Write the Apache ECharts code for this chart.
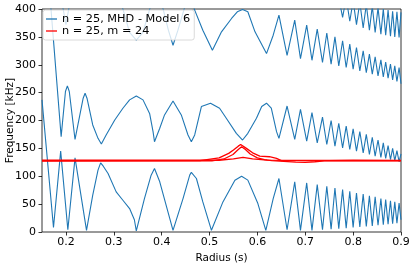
<!DOCTYPE html>
<html>
<head>
<meta charset="utf-8">
<script src="https://cdn.jsdelivr.net/npm/echarts@6/dist/echarts.min.js"></script>
<style>
  html, body { margin: 0; padding: 0; background: #fff; }
  #chart { width: 415px; height: 264px; }
</style>
</head>
<body>
<div id="chart"></div>
<script>
// ---- data ----
const xTicks = [0.2, 0.3, 0.4, 0.5, 0.6, 0.7, 0.8, 0.9];
const yTicks = [0, 50, 100, 150, 200, 250, 300, 350, 400];
const seriesNames = ['n = 25, MHD - Model 6', 'n = 25, m = 24'];

// lower continuum branch (0 - 150 kHz)
const branchA = [[0.15,237],[0.174,8],[0.189,145],[0.204,4],[0.219,133],[0.243,3],[0.256,66],[0.267,111],[0.2725,124],[0.278,118],[0.288,105],[0.305,72],[0.319,57],[0.333,42],[0.343,22],[0.347,2],[0.364,60],[0.378,102],[0.385,114],[0.396,90],[0.4237,3],[0.4446,60],[0.4586,102],[0.462,107],[0.4726,96],[0.486,54],[0.504,3],[0.528,54],[0.553,93],[0.567,100],[0.58,93],[0.601,51],[0.6176,3],[0.633,60],[0.645,96],[0.662,4],[0.678,90],[0.69,3],[0.703,88],[0.714,3],[0.725,85],[0.736,4],[0.745,82],[0.754,5],[0.762,79],[0.77,6],[0.778,76],[0.7855,7],[0.793,73],[0.8,8],[0.807,70],[0.814,9],[0.821,68],[0.8275,10],[0.834,65],[0.84,11],[0.846,63],[0.852,12],[0.858,60],[0.863,13],[0.868,58],[0.873,14],[0.878,56],[0.8825,15],[0.887,54],[0.8915,16],[0.896,52],[0.9,22]];

// middle continuum branch (150 - 260 kHz)
const branchB = [[0.166,430],[0.19,171],[0.199,252],[0.203,262],[0.207,252],[0.219,166],[0.236,240],[0.240,249],[0.244,240],[0.256,192],[0.267,168],[0.274,158],[0.284,174],[0.302,201],[0.319,222],[0.333,237],[0.347,244],[0.361,237],[0.375,212],[0.382,180],[0.385,162],[0.396,186],[0.406,210],[0.4237,235],[0.441,210],[0.455,174],[0.462,162],[0.469,174],[0.483,225],[0.502,231],[0.521,222],[0.535,204],[0.556,177],[0.569,165],[0.58,177],[0.598,204],[0.609,225],[0.619,231],[0.629,222],[0.64,180],[0.645,168],[0.662,226],[0.678,166],[0.69,220],[0.703,163],[0.714,214],[0.725,160],[0.736,206],[0.745,157],[0.754,200],[0.762,154],[0.77,195],[0.778,151],[0.7855,190],[0.793,148],[0.8,185],[0.807,145],[0.814,180],[0.821,142],[0.8275,175],[0.834,139],[0.84,170],[0.846,136],[0.852,165],[0.858,134],[0.863,160],[0.868,132],[0.873,155],[0.878,130],[0.8825,150],[0.887,128],[0.8915,146],[0.896,126],[0.9,140]];

// upper continuum branch (270 - 400 kHz)
const branchC = [[0.19,420],[0.2,372],[0.21,420],[0.31,420],[0.319,400],[0.333,358],[0.347,344],[0.361,358],[0.375,400],[0.385,420],[0.395,420],[0.403,400],[0.414,362],[0.4237,335],[0.434,362],[0.447,400],[0.455,420],[0.462,420],[0.469,398],[0.486,362],[0.506,326],[0.525,359],[0.546,383],[0.558,395],[0.569,399],[0.58,395],[0.595,359],[0.619,320],[0.633,353],[0.645,389],[0.662,317],[0.678,380],[0.69,311],[0.703,371],[0.714,308],[0.725,364],[0.736,304],[0.745,357],[0.754,301],[0.762,350],[0.77,298],[0.778,343],[0.7855,295],[0.793,337],[0.8,292],[0.807,331],[0.814,289],[0.821,325],[0.8275,286],[0.834,319],[0.84,283],[0.846,314],[0.852,280],[0.858,309],[0.863,278],[0.868,305],[0.873,276],[0.878,301],[0.8825,273],[0.887,298],[0.8915,270],[0.896,295],[0.9,266]];

// top-right branch (350 - 400 kHz)
const branchD = [[0.77,420],[0.778,385],[0.7855,420],[0.793,378],[0.8,415],[0.807,372],[0.814,412],[0.821,366],[0.8275,408],[0.834,362],[0.84,405],[0.846,358],[0.852,402],[0.858,355],[0.863,400],[0.868,353],[0.873,398],[0.878,351],[0.8825,396],[0.887,350],[0.8915,395],[0.896,349],[0.9,394]];

// red m = 24 curves
const red1 = [[0.15,128],[0.48,128],[0.52,133],[0.54,141],[0.55,147],[0.56,154],[0.565,157],[0.577,150],[0.59,142],[0.605,136],[0.625,135],[0.64,132],[0.65,128],[0.9,128]];
const red2 = [[0.15,127.3],[0.505,127.5],[0.53,131],[0.549,139],[0.56,148],[0.567,153],[0.575,148],[0.585,140],[0.6,133],[0.615,130],[0.63,128],[0.68,125.5],[0.7,125],[0.72,126],[0.74,127.5],[0.9,127.5]];
const red3 = [[0.15,128.7],[0.52,128.7],[0.55,131],[0.57,134],[0.59,131],[0.62,129],[0.66,128.5],[0.75,128.5],[0.8,129],[0.9,128.5]];

const BLUE = '#1f77b4';
const RED = '#ff0000';
const FONT = 'DejaVu Sans';

function blue(data) {
  return { name: seriesNames[0], type: 'line', data: data, symbol: 'none', clip: true,
           lineStyle: { color: BLUE, width: 1.1 }, itemStyle: { color: BLUE }, animation: false, z: 2 };
}
function red(data) {
  return { name: seriesNames[1], type: 'line', data: data, symbol: 'none', clip: true,
           lineStyle: { color: RED, width: 1.3 }, itemStyle: { color: RED }, animation: false, z: 3 };
}

const chart = echarts.init(document.getElementById('chart'), null, { renderer: 'canvas' });
chart.setOption({
  animation: false,
  backgroundColor: '#fff',
  grid: { left: 42, right: 14, top: 9, bottom: 32, show: true, borderColor: '#000', borderWidth: 0.8,
          backgroundColor: 'transparent', containLabel: false, outerBoundsMode: 'none' },
  legend: {
    data: seriesNames,
    orient: 'vertical',
    left: 43, top: 10,
    padding: [3, 4, 3, 3],
    itemGap: 0,
    icon: 'rect',
    itemWidth: 11,
    itemHeight: 1.3,
    backgroundColor: 'rgba(255,255,255,0.8)',
    borderColor: '#d0d0d0',
    borderWidth: 0.8,
    borderRadius: 2.5,
    textStyle: { fontFamily: FONT, fontSize: 11.3, color: '#000', lineHeight: 12 }
  },
  xAxis: {
    type: 'value', min: 0.15, max: 0.9,
    name: 'Radius (s)', nameLocation: 'middle', nameGap: 16,
    nameTextStyle: { fontFamily: FONT, fontSize: 10.5, color: '#000' },
    axisLine: { show: false },
    axisTick: { show: true, customValues: xTicks, length: 3.5, lineStyle: { color: '#000', width: 0.8 } },
    axisLabel: { customValues: xTicks, formatter: v => v.toFixed(1), fontFamily: FONT, fontSize: 11, color: '#000', margin: 5 },
    splitLine: { show: false }
  },
  yAxis: {
    type: 'value', min: 0, max: 400, interval: 50,
    name: 'Frequency [kHz]', nameLocation: 'middle', nameGap: 26, nameRotate: 90,
    nameMoveOverlap: false,
    nameTextStyle: { fontFamily: FONT, fontSize: 10.5, color: '#000', align: 'center', verticalAlign: 'bottom' },
    axisLine: { show: false },
    axisTick: { show: true, customValues: yTicks, length: 3.5, lineStyle: { color: '#000', width: 0.8 } },
    axisLabel: { customValues: yTicks, fontFamily: FONT, fontSize: 11, color: '#000', margin: 6 },
    splitLine: { show: false }
  },
  series: [
    blue(branchA), blue(branchB), blue(branchC), blue(branchD),
    red(red1), red(red2), red(red3)
  ]
});
</script>
</body>
</html>
